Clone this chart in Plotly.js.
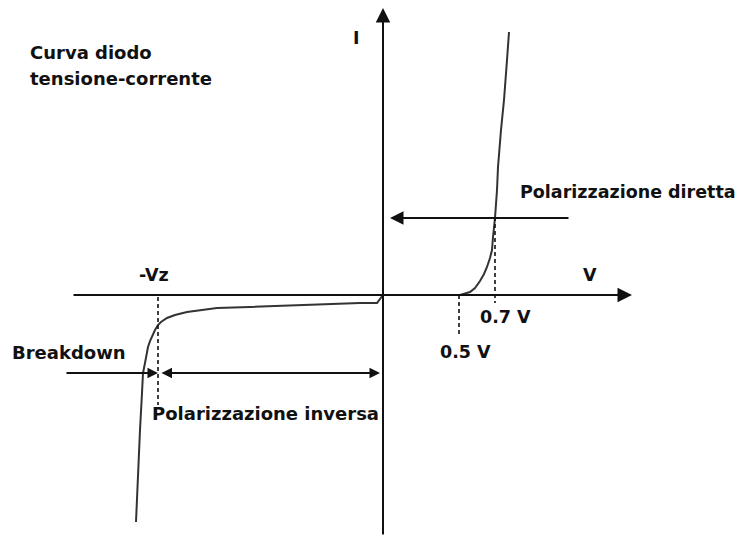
<!DOCTYPE html>
<html>
<head>
<meta charset="utf-8">
<script src="https://cdn.plot.ly/plotly-3.0.1.min.js"></script>
<style>
  html, body { margin: 0; padding: 0; background: #fff; }
  #grafico { width: 738px; height: 536px; }
</style>
</head>
<body>
<div id="grafico"></div>
<script>
// ===== Dati (origine = incrocio degli assi) =====
// ramo inverso: dal breakdown fino all'origine
const vInversa = [-247, -245, -243, -241, -240, -238, -237, -235, -233, -230, -228, -225, -222, -216, -208, -196, -183, -166, -133, -83, -23, -6, 0];
const iInversa = [-227, -175, -135, -98, -78, -68, -61, -52, -46, -39, -35, -30, -27, -23, -20, -17, -15, -13, -12, -10, -8, -8, -1];
// ramo diretto: dall'origine fino alla conduzione
const vDiretta = [0, 77, 81, 87, 92, 97, 101, 104, 107, 109, 110, 112, 114, 115, 118, 121, 124, 126];
const iDiretta = [0, 0, 1, 3, 7, 14, 21, 28, 37, 45, 58, 77, 105, 128, 165, 195, 235, 263];

// tensioni notevoli (stesse unità)
const vSoglia = 76;     // 0.5 V
const vGinocchio = 112; // 0.7 V
const vZener = -225;    // -Vz

// ===== Helpers =====
const FONT = "DejaVu Sans";

function freccia(xTip, yTip, xCoda, yCoda, scala, lato) {
  const w = 2;
  return {
    x: xTip, y: yTip, ax: xCoda, ay: yCoda,
    xref: "x", yref: "y", axref: "x", ayref: "y",
    text: "", showarrow: true, arrowhead: 2, arrowsize: scala / w,
    arrowwidth: w, arrowcolor: "#111", standoff: 0, startstandoff: 0,
    arrowside: lato || "end", startarrowhead: 2, startarrowsize: scala / w
  };
}

function etichetta(testo, x, y, xanchor, size) {
  return {
    x, y, xref: "x", yref: "y", text: "<b>" + testo + "</b>",
    showarrow: false, xanchor: xanchor || "left", yanchor: "middle",
    font: { family: FONT, size: size || 17.5, color: "#111" }
  };
}

function tratteggio(x, y0, y1) {
  return {
    type: "line", xref: "x", yref: "y", x0: x, x1: x, y0, y1,
    line: { color: "#111", width: 1.6, dash: "4px,3px" }
  };
}

// ===== Grafico =====
const curva = {
  x: vInversa.concat(vDiretta),
  y: iInversa.concat(iDiretta),
  type: "scatter", mode: "lines",
  line: { color: "#333", width: 2 },
  hoverinfo: "skip"
};

const annotazioni = [
  // assi
  freccia(249, 0, -311, 0, 2.9),
  freccia(0, 287, 0, -241, 2.9),
  // frecce di regione
  freccia(7, 77, 187, 77, 2.7),
  freccia(-225, -78, -318, -78, 2.1),
  freccia(-3, -78, -223, -78, 2.1, "end+start"),
  // testi
  etichetta("Curva diodo", -355, 243, "left", 18),
  etichetta("tensione-corrente", -355, 217, "left", 18),
  etichetta("I", -27, 257, "center"),
  etichetta("V", 207, 20, "center"),
  etichetta("Polarizzazione diretta", 135, 103),
  etichetta("-Vz", -229, 20, "center"),
  etichetta("0.7 V", 95, -22),
  etichetta("0.5 V", 55, -57),
  etichetta("Breakdown", -373, -57, "left", 18),
  etichetta("Polarizzazione inversa", -233, -118, "left", 18)
];

const layout = {
  width: 738, height: 536, autosize: false,
  margin: { t: 0, r: 0, b: 0, l: 0 },
  paper_bgcolor: "#fff", plot_bgcolor: "#fff",
  showlegend: false,
  xaxis: { range: [-383, 355], visible: false, fixedrange: true },
  yaxis: { range: [-241, 295], visible: false, fixedrange: true },
  shapes: [
    tratteggio(vGinocchio, 78, -8),
    tratteggio(vSoglia, 0, -40),
    tratteggio(vZener, -2, -110)
  ],
  annotations: annotazioni
};

Plotly.newPlot("grafico", [curva], layout, { displayModeBar: false, staticPlot: true });
</script>
</body>
</html>
